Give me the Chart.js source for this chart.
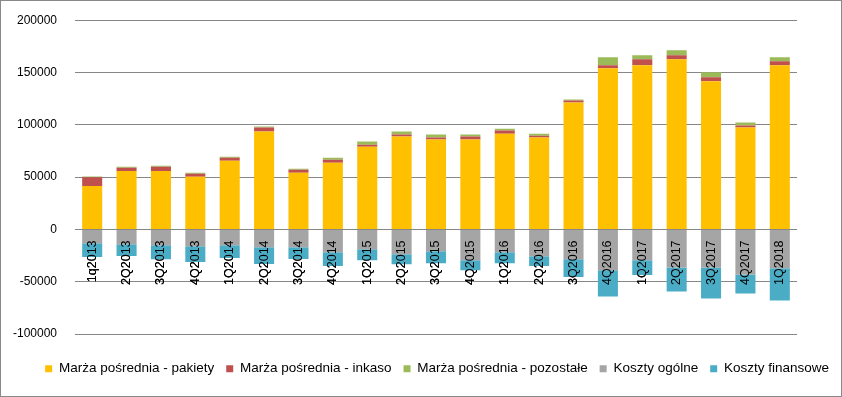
<!DOCTYPE html>
<html>
<head>
<meta charset="utf-8">
<script src="https://cdn.jsdelivr.net/npm/chart.js@4/dist/chart.umd.min.js"></script>
<style>
  html, body { margin: 0; padding: 0; background: #fff; }
  #wrap { width: 842px; height: 397px; box-sizing: border-box; border: 1px solid #898989; position: relative; }
  #c { display: block; }
</style>
</head>
<body>
<div id="wrap"><canvas id="c" width="840" height="395"></canvas></div>
<script>
const categories = ["1q2013","2Q2013","3Q2013","4Q2013","1Q2014","2Q2014","3Q2014","4Q2014","1Q2015","2Q2015","3Q2015","4Q2015","1Q2016","2Q2016","3Q2016","4Q2016","1Q2017","2Q2017","3Q2017","4Q2017","1Q2018"];
const marzaPakiety   = [41500, 56000, 56000, 50300, 65700, 93600, 54100, 63800, 79100, 88800, 85900, 85900, 91600, 87800, 121400, 154100, 157000, 162800, 141600, 97400, 157000];
const marzaInkaso    = [8500, 3000, 4000, 2900, 2900, 3800, 2900, 2800, 1900, 1900, 1900, 2900, 2900, 1900, 2000, 2900, 5800, 3800, 3900, 1900, 3800];
const marzaPozostale = [700, 1000, 900, 900, 1000, 1000, 1000, 2000, 3000, 2900, 2900, 1900, 1900, 1900, 900, 7700, 3800, 4800, 4800, 2900, 3900];
const kosztyOgolne   = [-13200, -14100, -15100, -16000, -15100, -17000, -17000, -21800, -18900, -23700, -20900, -29500, -21800, -25700, -28600, -39100, -29500, -36300, -36300, -43000, -37200];
const kosztyFinansowe= [-13100, -11300, -13500, -15100, -12200, -16000, -11300, -13200, -10600, -9700, -11500, -9600, -10600, -9300, -17000, -25000, -14100, -23000, -29800, -18300, -30800];
const yTicks = [-100000, -50000, 0, 50000, 100000, 150000, 200000];

const seriesNames = ["Marża pośrednia - pakiety", "Marża pośrednia - inkaso", "Marża pośrednia - pozostałe", "Koszty ogólne", "Koszty finansowe"];
const seriesColors = ["#FFC000", "#C0504D", "#9BBB59", "#A5A5A5", "#4BACC6"];
const seriesData = [marzaPakiety, marzaInkaso, marzaPozostale, kosztyOgolne, kosztyFinansowe];

const FONT = "'Liberation Sans', Arial, sans-serif";

// redraw category labels above the bars (as in the reference)
const labelsOnTop = {
  id: 'labelsOnTop',
  afterDatasetsDraw(chart) {
    chart.scales.x.drawLabels(chart.chartArea);
  }
};

new Chart(document.getElementById('c'), {
  type: 'bar',
  data: {
    labels: categories,
    datasets: seriesNames.map((n, i) => ({
      label: n,
      data: seriesData[i],
      backgroundColor: seriesColors[i],
      borderWidth: 0,
      barPercentage: 0.583,
      categoryPercentage: 1.0,
      xAxisID: 'x',
      yAxisID: 'y'
    }))
  },
  options: {
    responsive: false,
    animation: false,
    devicePixelRatio: 1,
    layout: { padding: { left: 12, right: 0, top: 0, bottom: 10.5 } },
    plugins: {
      tooltip: { enabled: false },
      legend: {
        position: 'bottom',
        align: 'end',
        labels: {
          font: { family: FONT, size: 13.5 },
          color: '#000',
          boxWidth: 7,
          boxHeight: 7,
          padding: 12
        }
      }
    },
    scales: {
      x: {
        stacked: true,
        position: { y: 0 },
        grid: { display: false, drawTicks: false },
        border: { display: false },
        ticks: {
          font: { family: FONT, size: 12.5 },
          color: '#000',
          minRotation: 90,
          maxRotation: 90,
          padding: 11,
          autoSkip: false
        }
      },
      xSpacer: {
        type: 'category',
        position: 'bottom',
        display: true,
        grid: { display: false, drawTicks: false },
        border: { display: false },
        ticks: { display: false },
        afterFit: (s) => { s.height = 16; }
      },
      y: {
        stacked: true,
        min: -100000,
        max: 200000,
        afterBuildTicks: (s) => { s.ticks = yTicks.map(v => ({ value: v })); },
        afterFit: (s) => { s.width = 62; s.paddingTop = 19.3; s.paddingBottom = 8; },
        grid: { color: '#868686', lineWidth: 1, drawTicks: false },
        border: { display: false },
        ticks: {
          font: { family: FONT, size: 12 },
          color: '#000',
          padding: 18,
          callback: (v) => String(v)
        }
      },
      yRight: {
        position: 'right',
        display: true,
        grid: { display: false, drawTicks: false },
        border: { display: false },
        ticks: { display: false },
        afterFit: (s) => { s.width = 44; }
      }
    }
  },
  plugins: [labelsOnTop]
});
</script>
</body>
</html>
